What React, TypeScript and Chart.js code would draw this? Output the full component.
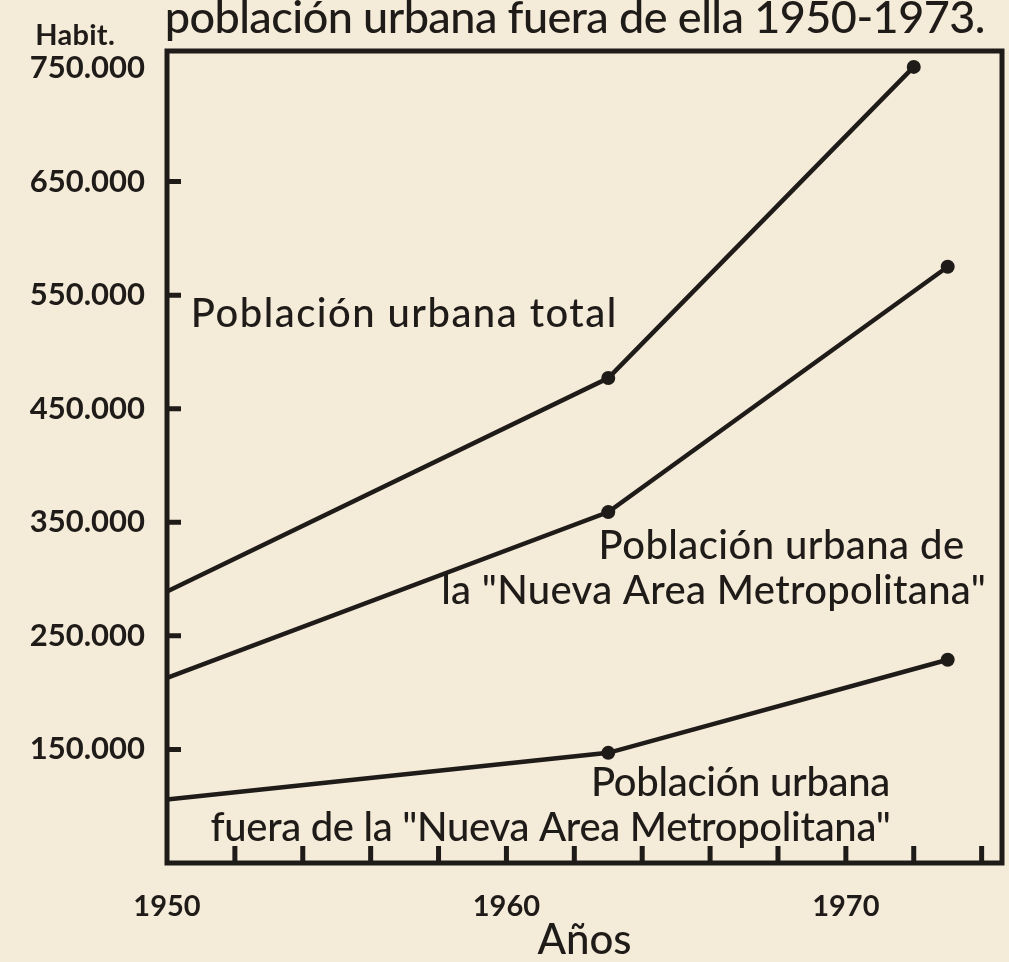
import { useEffect, useRef } from "react";
import { Chart, registerables } from "chart.js";

Chart.register(...registerables);

// ---- data ----
const totalYears = [1950, 1963, 1972];
const totalValues = [289000, 477000, 751000];

const metroYears = [1950, 1963, 1973];
const metroValues = [213000, 359000, 575000];

const outsideYears = [1950, 1963, 1973];
const outsideValues = [106000, 147000, 229000];

const yTickValues = [150000, 250000, 350000, 450000, 550000, 650000, 750000];
const yTickLabels = ["150.000", "250.000", "350.000", "450.000", "550.000", "650.000", "750.000"];

const xLabelYears = [1950, 1960, 1970];
const xLabelTexts = ["1950", "1960", "1970"];
const xMinorTicks = [1952, 1954, 1956, 1958, 1960, 1962, 1964, 1966, 1968, 1970, 1972, 1974];

const titleText = "población urbana fuera de ella 1950-1973.";
const unitText = "Habit.";
const xAxisTitle = "Años";

const INK = "#1f1b18";
const PAPER = "#f4ebd9";
const FONT = "Lato, 'DejaVu Sans', sans-serif";

// label anchors (data coordinates) and target widths
const annotations = [
  { text: "Población urbana total", x: 1956.97, y: 533000, width: 427 },
  { text: "Población urbana de", x: 1968.1, y: 329000, width: 366 },
  { text: "la \"Nueva Area Metropolitana\"", x: 1966.1, y: 289000, width: 545 },
  { text: "Población urbana", x: 1966.9, y: 120000, width: 299 },
  { text: "fuera de la \"Nueva Area Metropolitana\"", x: 1961.3, y: 80500, width: 680 },
];

function fitText(ctx: CanvasRenderingContext2D, text: string, x: number, y: number, target: number) {
  (ctx as any).letterSpacing = "0px";
  const w = ctx.measureText(text).width;
  const ls = Math.max(-3, (target - w) / Math.max(1, text.length));
  (ctx as any).letterSpacing = ls.toFixed(2) + "px";
  ctx.fillText(text, x + ls / 2, y);
  (ctx as any).letterSpacing = "0px";
}

const framePlugin = {
  id: "frameAndTicks",
  beforeDatasetsDraw(chart: any) {
    const { ctx, chartArea } = chart;
    const { left, top, right, bottom } = chartArea;
    const xS = chart.scales.x;
    const yS = chart.scales.y;
    ctx.save();
    ctx.strokeStyle = INK;
    ctx.lineWidth = 5;
    ctx.lineJoin = "miter";
    ctx.strokeRect(left, top, right - left, bottom - top);
    ctx.beginPath();
    yTickValues.slice(0, -1).forEach((v) => {
      const py = yS.getPixelForValue(v);
      ctx.moveTo(left, py);
      ctx.lineTo(left + 14, py);
    });
    xMinorTicks.forEach((v) => {
      const px = xS.getPixelForValue(v);
      ctx.moveTo(px, bottom);
      ctx.lineTo(px, bottom - 17);
    });
    ctx.stroke();
    ctx.restore();
  },
  afterDraw(chart: any) {
    const { ctx } = chart;
    const xS = chart.scales.x;
    const yS = chart.scales.y;
    ctx.save();
    ctx.fillStyle = INK;
    ctx.textAlign = "center";
    ctx.textBaseline = "middle";
    ctx.font = `500 40px ${FONT}`;
    annotations.forEach((a) => {
      fitText(ctx, a.text, xS.getPixelForValue(a.x), yS.getPixelForValue(a.y), a.width);
    });
    // title
    ctx.textBaseline = "alphabetic";
    ctx.font = `500 45px ${FONT}`;
    fitText(ctx, titleText, 575, 33, 820);
    // unit
    ctx.font = `bold 29px ${FONT}`;
    ctx.textBaseline = "middle";
    fitText(ctx, unitText, 75, 36, 80);
    ctx.restore();
  },
};

export default function App() {
  const ref = useRef<HTMLCanvasElement | null>(null);

  useEffect(() => {
    document.body.style.margin = "0";
    document.body.style.background = PAPER;
    const canvas = ref.current;
    if (!canvas) return;
    const mk = (xs: number[], ys: number[]) => xs.map((x, i) => ({ x, y: ys[i] }));
    const lineStyle = {
      borderColor: INK,
      backgroundColor: INK,
      borderWidth: 4.5,
      pointRadius: [0, 7, 7],
      pointHoverRadius: [0, 7, 7],
      pointBackgroundColor: INK,
      pointBorderWidth: 0,
      tension: 0,
      fill: false,
      clip: false as any,
    };
    const chart = new Chart(canvas, {
      type: "line",
      data: {
        datasets: [
          { label: "Población urbana total", data: mk(totalYears, totalValues), ...lineStyle },
          { label: "Población urbana de la \"Nueva Area Metropolitana\"", data: mk(metroYears, metroValues), ...lineStyle },
          { label: "Población urbana fuera de la \"Nueva Area Metropolitana\"", data: mk(outsideYears, outsideValues), ...lineStyle },
        ],
      },
      options: {
        animation: false,
        responsive: false,
        maintainAspectRatio: false,
        layout: { padding: { top: 51, right: 5, left: 0, bottom: 0 } },
        plugins: {
          legend: { display: false },
          tooltip: { enabled: false },
          title: { display: false },
        },
        scales: {
          x: {
            type: "linear",
            min: 1950,
            max: 1974.6,
            afterBuildTicks: (s: any) => {
              s.ticks = xLabelYears.map((v) => ({ value: v }));
            },
            afterFit: (s: any) => {
              s.height = 99;
            },
            ticks: {
              autoSkip: false,
              maxRotation: 0,
              padding: 26,
              color: INK,
              font: { family: FONT, weight: "bold", size: 29 },
              callback: (v: any) => xLabelTexts[xLabelYears.indexOf(Number(v))] ?? "",
            },
            grid: { display: false, drawTicks: false },
            border: { display: false },
            title: {
              display: true,
              text: xAxisTitle,
              color: INK,
              font: { family: FONT, weight: "500", size: 42 },
              padding: { top: 0, bottom: -4 },
            },
          },
          y: {
            type: "linear",
            min: 50000,
            max: 765000,
            afterBuildTicks: (s: any) => {
              s.ticks = yTickValues.map((v) => ({ value: v }));
            },
            afterFit: (s: any) => {
              s.width = 167;
            },
            ticks: {
              autoSkip: false,
              padding: 22,
              color: INK,
              font: { family: FONT, weight: "bold", size: 31 },
              callback: (v: any) => yTickLabels[yTickValues.indexOf(Number(v))] ?? "",
            },
            grid: { display: false, drawTicks: false },
            border: { display: false },
          },
        },
      },
      plugins: [framePlugin],
    });
    return () => chart.destroy();
  }, []);

  return (
    <div style={{ position: "absolute", left: 0, top: 0, width: 1009, height: 962, background: PAPER }}>
      <canvas ref={ref} width={1009} height={962} style={{ display: "block" }} />
    </div>
  );
}
